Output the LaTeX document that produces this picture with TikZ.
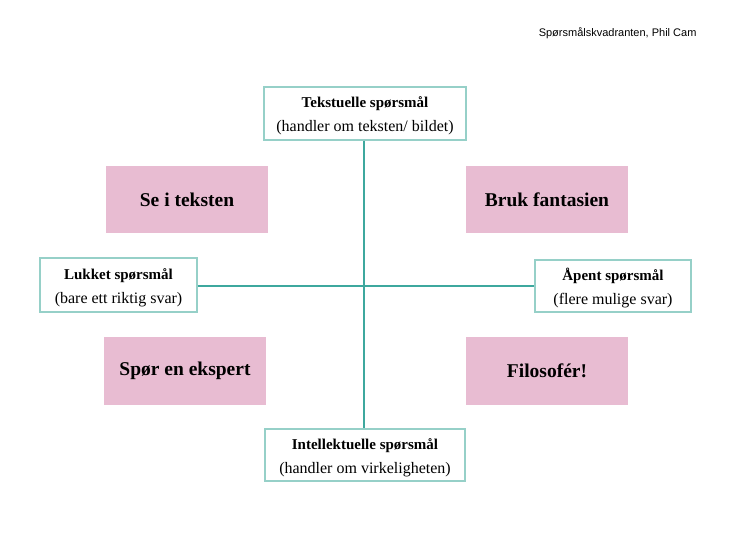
\documentclass[tikz,border=0pt]{standalone}
\usepackage{fontspec}
\setmainfont{Liberation Serif}
\newfontfamily\labelsans{Liberation Sans}
\definecolor{tealline}{RGB}{62,168,158}
\definecolor{tealbox}{RGB}{150,208,200}
\definecolor{pinkfill}{RGB}{232,188,210}
\newcommand{\qtitle}[1]{{\fontsize{15}{24}\selectfont\bfseries\rule{0pt}{15.5pt}#1}}
\begin{document}
\begin{tikzpicture}[x=1pt,y=-1pt,
  qbox/.style={draw=tealbox,line width=1.2pt,fill=white,inner sep=0pt,align=center,font=\fontsize{16}{24}\selectfont},
  pbox/.style={fill=pinkfill,inner sep=0pt,font=\fontsize{19.5}{22}\selectfont\bfseries},
  axis/.style={draw=tealline,line width=2pt}]
\useasboundingbox[fill=white] (0,0) rectangle (755,535);
\node[anchor=north east,font=\labelsans\fontsize{11}{13}\selectfont] (credit) at (700,24) {Spørsmålskvadranten, Phil Cam};
\node[qbox,minimum width=202,minimum height=53] (top) at (365,113.5) {\qtitle{Tekstuelle spørsmål}\\(handler om teksten/ bildet)};
\node[qbox,minimum width=200,minimum height=52] (bot) at (365,455) {\qtitle{Intellektuelle spørsmål}\\(handler om virkeligheten)};
\node[qbox,minimum width=157,minimum height=54] (left) at (118.5,285) {\qtitle{Lukket spørsmål}\\(bare ett riktig svar)};
\node[qbox,minimum width=156,minimum height=52] (right) at (613,286) {\qtitle{Åpent spørsmål}\\(flere mulige svar)};
\coordinate (c) at (364,286);
\draw[axis] (top.south -| c) -- (bot.north -| c);
\draw[axis] (left.east |- c) -- (right.west |- c);
\node[pbox,minimum width=162,minimum height=67] (q1) at (187,199.5) {Se i teksten};
\node[pbox,minimum width=162,minimum height=67] (q2) at (547,199.5) {Bruk fantasien};
\node[pbox,minimum width=162,minimum height=68] (q3) at (185,371) {Spør en ekspert};
\node[pbox,minimum width=162,minimum height=68] (q4) at (547,371) {Filosofér!};
\end{tikzpicture}
\end{document}
